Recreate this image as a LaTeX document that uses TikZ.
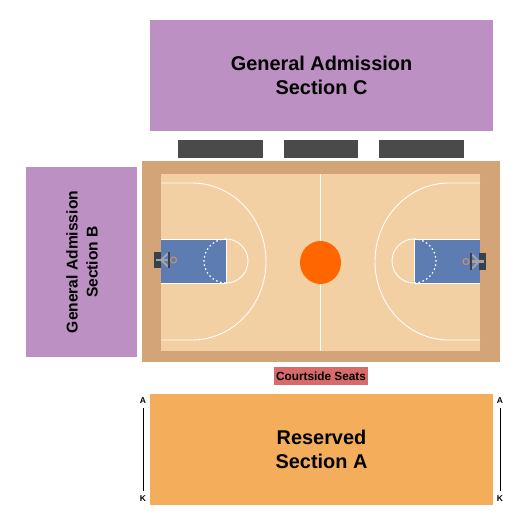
\documentclass[tikz,border=0pt]{standalone}
\usepackage{fontspec}
\setmainfont{Liberation Sans}
\definecolor{gapurple}{HTML}{BC90C2}
\definecolor{resorange}{HTML}{F4AE5B}
\definecolor{courtside}{HTML}{D76B6B}
\definecolor{apron}{HTML}{D3A478}
\definecolor{floorc}{HTML}{F2D0A4}
\definecolor{lanec}{HTML}{5D7DB2}
\definecolor{darkbar}{HTML}{4A4A4A}
\definecolor{ballc}{HTML}{FF6600}
\definecolor{gear}{HTML}{3A4148}
\definecolor{hoopc}{HTML}{D09070}
\definecolor{strut}{HTML}{A0A4A8}
\tikzset{
 block/.style={fill=#1,draw=none,inner sep=0pt},
 seclabel/.style={font=\bfseries\fontsize{19.9}{24}\selectfont,align=center,text=black,inner sep=0pt},
 smalllabel/.style={font=\bfseries\fontsize{15.6}{20}\selectfont,align=center,text=black,inner sep=0pt},
 rowlabel/.style={font=\bfseries\fontsize{8.5}{10}\selectfont,inner sep=0pt},
 courtline/.style={draw=white,line width=0.9pt},
 rowline/.style={draw=black,line width=1pt},
}
\begin{document}
\begin{tikzpicture}[x=1pt,y=-1pt]
\useasboundingbox (0,0) rectangle (525,525);
% Sections
\fill[gapurple] (150,20) rectangle (493,131);
\node[seclabel] (secC) at (321.5,75) {General Admission\\Section C};
\fill[gapurple] (26,167) rectangle (137,357);
\node[smalllabel,rotate=90] (secB) at (82,262) {General Admission\\Section B};
\fill[resorange] (150,394) rectangle (493,505);
\node[seclabel] (secA) at (321.5,449) {Reserved\\Section A};
% Dark bars
\fill[darkbar] (178,140) rectangle (263,158);
\fill[darkbar] (284,140) rectangle (358,158);
\fill[darkbar] (379,140) rectangle (464,158);
% Court
\fill[apron] (142,161) rectangle (500,362);
\fill[floorc] (161,174) rectangle (480,351);
\fill[lanec] (161,239) rectangle (226,283);
\fill[lanec] (414,239) rectangle (480,283);
% Lines
\draw[courtline] (320.5,174) -- (320.5,351);
\draw[courtline] (161,183) -- (192,183) arc[start angle=-90,end angle=90,x radius=74,y radius=78.5] -- (161,340);
\draw[courtline] (480,183) -- (449,183) arc[start angle=-90,end angle=-270,x radius=74,y radius=78.5] -- (480,340);
\draw[courtline] (161,239) -- (226,239) -- (226,283) -- (161,283);
\draw[courtline] (480,239) -- (414,239) -- (414,283) -- (480,283);
\draw[courtline] (226,239) arc[start angle=-90,end angle=90,radius=22];
\draw[courtline] (414,239) arc[start angle=-90,end angle=-270,radius=22];
\draw[courtline,line width=1.2pt,dash pattern=on 1.6pt off 2.6pt] (226,239) arc[start angle=-90,end angle=-270,radius=22];
\draw[courtline,line width=1.2pt,dash pattern=on 1.6pt off 2.6pt] (414,239) arc[start angle=-90,end angle=90,radius=22];
% Centre circle
\fill[ballc] (320.5,262.5) ellipse[x radius=20.5,y radius=21.5];
% Left goal
\fill[gear] (154,252) rectangle (161,268);
\draw[strut,line width=2pt] (168,253.5) -- (161,260) -- (168,266.5);
\draw[strut,line width=2.2pt] (156,260) -- (168,260);
\draw[gear,line width=1.8pt] (169,252) -- (169,268);
\draw[hoopc,line width=1pt] (173.5,260) circle[radius=3];
% Right goal
\fill[gear] (479,253) rectangle (486,270);
\draw[strut,line width=2pt] (472,254.5) -- (479,261.5) -- (472,268.5);
\draw[strut,line width=2.2pt] (484,261.5) -- (472,261.5);
\draw[gear,line width=1.8pt] (471,253) -- (471,270);
\draw[hoopc,line width=1pt] (466,261.5) circle[radius=3];
% Courtside
\node[block=courtside,minimum width=94pt,minimum height=18pt,font=\bfseries\fontsize{11.8}{14}\selectfont,text=black] (courtside) at (321,376) {Courtside Seats};
% Row markers
\node[rowlabel] (la) at (143,400.7) {A};
\node[rowlabel] (lk) at (143,498.7) {K};
\path (la.south) ++(0,4.5) coordinate (laS) (lk.north) ++(0,-4.5) coordinate (lkN);
\draw[rowline] (laS) -- (lkN);
\node[rowlabel] (ra) at (500,400.7) {A};
\node[rowlabel] (rk) at (500,498.7) {K};
\path (ra.south) ++(0,4.5) coordinate (raS) (rk.north) ++(0,-4.5) coordinate (rkN);
\draw[rowline] (raS) -- (rkN);
\end{tikzpicture}
\end{document}
